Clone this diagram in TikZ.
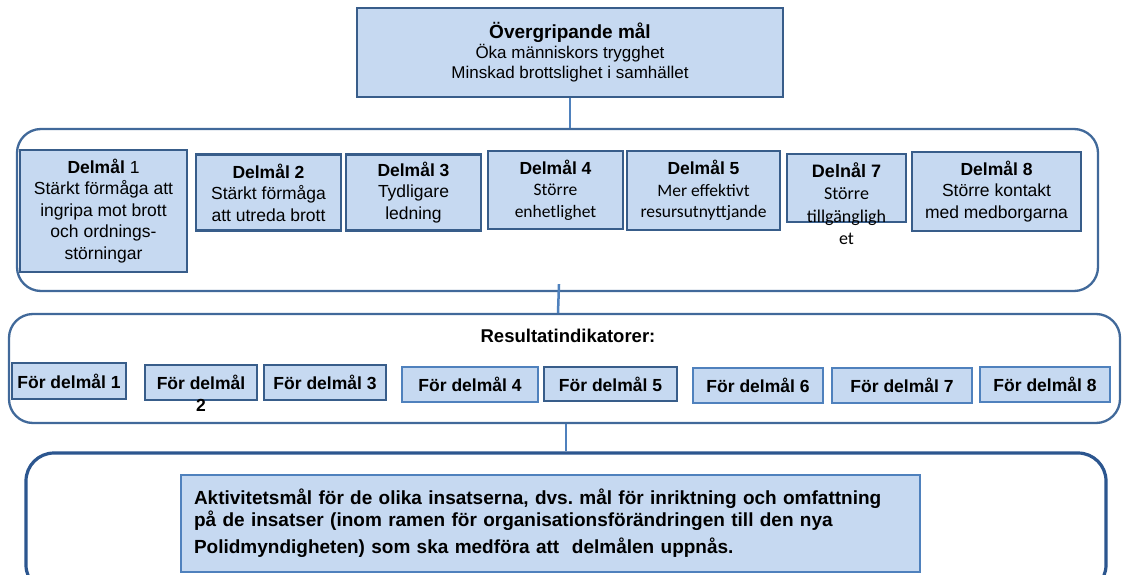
\documentclass[tikz,border=0pt]{standalone}
\usepackage{fontspec}
\setmainfont{Liberation Sans}
\newfontfamily\calfont{Carlito}
\usetikzlibrary{calc}
\definecolor{lb}{HTML}{C6D9F1}
\definecolor{dk}{HTML}{385D8A}
\definecolor{lt}{HTML}{4F81BD}
\definecolor{gp}{HTML}{41699A}
\definecolor{gd}{HTML}{2C568F}
\frenchspacing
\tikzset{
  topbox/.style={draw=dk, fill=lb, line width=2.8pt, align=center, inner sep=0pt,
    minimum width=426pt, minimum height=89pt, font=\fontsize{17}{20}\selectfont},
  dbox/.style={draw=dk, fill=lb, line width=2.7pt, align=center, inner sep=0pt,
    font=\fontsize{17.5}{21.5}\selectfont},
  fbox/.style={draw=dk, fill=lb, line width=2.7pt, inner sep=0pt,
    font=\bfseries\fontsize{17.5}{21}\selectfont},
  fboxl/.style={fbox, draw=lt},
  group/.style={draw=gp, line width=2.3pt, rounded corners=24pt, inner sep=0pt},
  conn/.style={draw=lt, line width=2.5pt},
}
\begin{document}
\begin{tikzpicture}[x=1pt,y=-1pt]
\clip (0,0) rectangle (1126,575);
\fill[white] (0,0) rectangle (1126,575);

% group frames
\node[group, minimum width=1081pt, minimum height=162pt] (g1) at (557.5,210) {};
\node[group, minimum width=1111pt, minimum height=109pt] (g2) at (564.5,368.5) {};
\node[group, draw=gd, line width=3.2pt, rounded corners=28pt,
      minimum width=1080pt, minimum height=140pt] (g3) at (566,523) {};

% top box
\node[topbox] (top) at (570,52.5)
  {{\bfseries\fontsize{19}{20}\selectfont Övergripande mål}\\Öka människors trygghet\\Minskad brottslighet i samhället};

% delmål boxes
\node[dbox, minimum width=167pt, minimum height=122pt] (d1) at (103.5,211)
  {\textbf{Delmål} 1\\Stärkt förmåga att\\ingripa mot brott\\och ordnings-\\störningar};
\node[dbox, minimum width=145pt, minimum height=76pt] (d2) at (268.5,192.5)
  {\textbf{Delmål 2}\\Stärkt förmåga\\att utreda brott};
\node[dbox, minimum width=135pt, minimum height=76pt] (d3) at (413.5,192.5)
  {\textbf{Delmål 3}\\Tydligare\\ledning};
\node[dbox, minimum width=135pt, minimum height=78pt] (d4) at (555.5,190)
  {\textbf{Delmål 4}\\{\calfont Större}\\{\calfont enhetlighet}};
\node[dbox, minimum width=153pt, minimum height=79pt] (d5) at (703.5,190.5)
  {\textbf{Delmål 5}\\{\calfont Mer effektivt}\\{\calfont resursutnyttjande}};
\node[dbox, minimum width=119pt, minimum height=68pt] (d7) at (846.5,188) {};
\node[align=center, anchor=north, inner sep=0pt, font=\fontsize{18}{22.5}\selectfont] (d7t) at (846.5,162)
  {\textbf{Delnål 7}\\{\calfont Större}\\{\calfont tillgängligh}\\{\calfont et}};
\node[dbox, minimum width=169pt, minimum height=79pt] (d8) at (996.5,191.5)
  {\textbf{Delmål 8}\\Större kontakt\\med medborgarna};

% result indicators
\node[font=\bfseries\fontsize{18.5}{20}\selectfont, inner sep=0pt] (ri) at (568,336) {Resultatindikatorer:};
\node[fbox,  minimum width=114pt, minimum height=36pt] (f1) at (69,381) {För delmål 1};
\node[fbox,  minimum width=112pt, minimum height=35pt] (f2) at (201,382.5) {För delmål};
\node[font=\bfseries\fontsize{17.5}{21}\selectfont, inner sep=0pt] (f2b) at (201,405) {2};
\node[fbox,  minimum width=122pt, minimum height=35pt] (f3) at (325,382.5) {För delmål 3};
\node[fboxl, minimum width=136pt, minimum height=35pt] (f4) at (470,384.5) {För delmål 4};
\node[fbox,  minimum width=133pt, minimum height=34pt] (f5) at (610.5,384) {För delmål 5};
\node[fboxl, minimum width=130pt, minimum height=35pt] (f6) at (758,385.5) {För delmål 6};
\node[fboxl, minimum width=140pt, minimum height=35pt] (f7) at (902,385.5) {För delmål 7};
\node[fboxl, minimum width=130pt, minimum height=35pt] (f8) at (1045,384.5) {För delmål 8};

% activity box
\node[draw=lt, fill=lb, line width=2.8pt, minimum width=739pt, minimum height=97pt,
      inner xsep=13pt, inner ysep=0pt, text width=713pt, align=left,
      font=\bfseries\fontsize{19}{21.5}\selectfont] (act) at (550.5,523.5)
  {Aktivitetsmål för de olika insatserna, dvs. mål för inriktning och omfattning\\
   på de insatser (inom ramen för organisationsförändringen till den nya\\[6pt]
   Polidmyndigheten) som ska medföra att \ delmålen uppnås.};

% connectors
\draw[conn] (top.south) -- (top.south |- g1.north);
\draw[conn] ($(g1.south)+(1.5,-8)$) -- ($(g2.north)+(-6.5,0)$);
\draw[conn] (g3.north) -- (g3.north |- g2.south);
\end{tikzpicture}
\end{document}
